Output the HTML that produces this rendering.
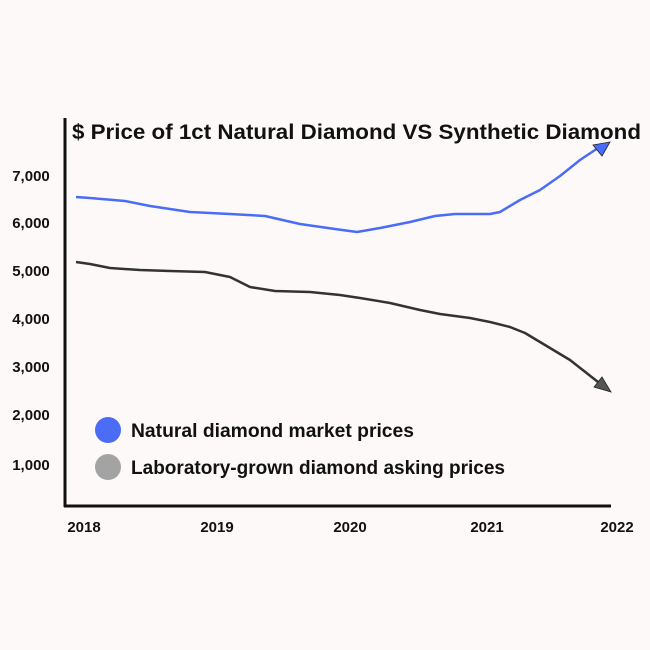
<!DOCTYPE html>
<html><head><meta charset="utf-8"><style>
html,body{margin:0;padding:0;background:#fcf9f8;}
svg{display:block;font-family:"Liberation Sans",sans-serif;}
</style></head><body>
<svg width="650" height="650" viewBox="0 0 650 650" xmlns="http://www.w3.org/2000/svg">
<rect width="650" height="650" fill="#fcf9f8"/>
<text x="72" y="139" font-size="21" font-weight="bold" fill="#111" textLength="569" lengthAdjust="spacingAndGlyphs">$ Price of 1ct Natural Diamond VS Synthetic Diamond</text>
<line x1="65" y1="118" x2="65" y2="507" stroke="#111" stroke-width="3"/>
<line x1="64" y1="506" x2="611" y2="506" stroke="#111" stroke-width="3"/>
<g font-size="15" font-weight="bold" fill="#111" text-anchor="middle">
<text x="31" y="181">7,000</text>
<text x="31" y="228">6,000</text>
<text x="31" y="276">5,000</text>
<text x="31" y="324">4,000</text>
<text x="31" y="372">3,000</text>
<text x="31" y="420">2,000</text>
<text x="31" y="470">1,000</text>
<text x="84" y="532">2018</text>
<text x="217" y="532">2019</text>
<text x="350" y="532">2020</text>
<text x="487" y="532">2021</text>
<text x="617" y="532">2022</text>
</g>
<polyline fill="none" stroke="#4a6cf7" stroke-width="2.5" stroke-linejoin="round" points="76,197 90,198 125,201 150,206 190,212 230,214 265,216 300,224 335,229 357,232 380,228 410,222 435,216 455,214 490,214 500,212 520,200 540,190 560,176 580,160 598,148"/>
<polygon points="610,142 593,145 602,156" fill="#4a6cf7" stroke="#223" stroke-width="0.8"/>
<polyline fill="none" stroke="#333" stroke-width="2.5" stroke-linejoin="round" points="76,262 90,264 110,268 140,270 170,271 205,272 230,277 250,287 275,291 310,292 340,295 360,298 390,303 420,310 440,314 470,318 490,322 510,327 525,333 545,345 570,360 598,382"/>
<polygon points="611,392 594,387 602,377" fill="#555" stroke="#222" stroke-width="0.8"/>
<ellipse cx="108" cy="430" rx="13" ry="13" fill="#4a6cf7"/>
<ellipse cx="108" cy="467" rx="13" ry="13" fill="#a3a3a3"/>
<g font-size="19" font-weight="bold" fill="#111">
<text x="131" y="437" textLength="283" lengthAdjust="spacingAndGlyphs">Natural diamond market prices</text>
<text x="131" y="474" textLength="374" lengthAdjust="spacingAndGlyphs">Laboratory-grown diamond asking prices</text>
</g>
</svg>
</body></html>
